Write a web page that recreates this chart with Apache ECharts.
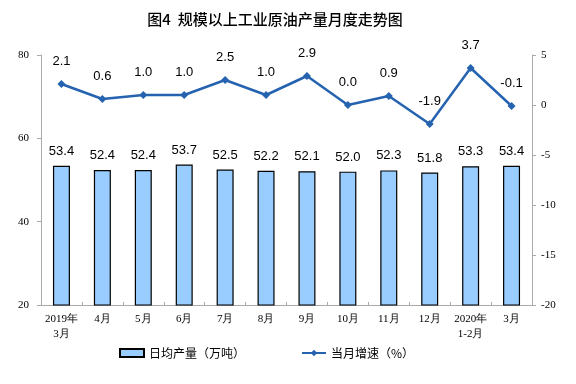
<!DOCTYPE html>
<html><head><meta charset="utf-8">
<script src="https://cdn.jsdelivr.net/npm/echarts@6/dist/echarts.min.js"></script>
<style>html,body{margin:0;padding:0;background:#fff}#c{width:576px;height:384px}</style>
</head><body><div id="c"></div>
<script>
var categories = ['2019年\n3月','4月','5月','6月','7月','8月','9月','10月','11月','12月','2020年\n1-2月','3月'];
var dailyOutput = [53.4,52.4,52.4,53.7,52.5,52.2,52.1,52.0,52.3,51.8,53.3,53.4];
var growthRate = [2.1,0.6,1.0,1.0,2.5,1.0,2.9,0.0,0.9,-1.9,3.7,-0.1];
var leftTicks = [20,40,60,80];
var rightTicks = [-20,-15,-10,-5,0,5];

var chart = echarts.init(document.getElementById('c'));
var serif = '"Liberation Serif","Times New Roman",serif';
var sans = '"Liberation Sans",Arial,sans-serif';
var cjk = '"Noto Sans CJK SC",sans-serif';
chart.setOption({
  animation:false,
  title:{text:'图4  规模以上工业原油产量月度走势图',left:270,textAlign:'center',top:7,
    textStyle:{fontFamily:cjk,fontSize:15,fontWeight:500,color:'#000'}},
  grid:{left:41,right:44,top:55,bottom:79},
  legend:{bottom:20,left:114,itemGap:56,itemWidth:24,itemHeight:8,
    textStyle:{fontFamily:cjk,fontSize:12,color:'#000'},
    data:[{name:'日均产量（万吨）',icon:'rect'},{name:'当月增速（%）'}]},
  xAxis:{type:'category',data:categories,
    axisLine:{onZero:false,lineStyle:{color:'#aaa'}},
    axisTick:{show:true,inside:true,length:3,lineStyle:{color:'#aaa'}},
    axisLabel:{fontFamily:serif,fontSize:11,color:'#000',margin:7,lineHeight:15,interval:0}},
  yAxis:[
    {type:'value',min:20,max:80,interval:20,
      axisLine:{show:true,lineStyle:{color:'#aaa'}},
      axisTick:{show:true,length:4,lineStyle:{color:'#aaa'}},
      splitLine:{show:false},
      axisLabel:{fontFamily:serif,fontSize:11,color:'#000',margin:12,
        formatter:function(v){return leftTicks.indexOf(v)>=0?v:'';}}},
    {type:'value',min:-20,max:5,interval:5,
      axisLine:{show:true,lineStyle:{color:'#aaa'}},
      axisTick:{show:true,length:4,lineStyle:{color:'#aaa'}},
      splitLine:{show:false},
      axisLabel:{fontFamily:serif,fontSize:11,color:'#000',margin:9,
        formatter:function(v){return rightTicks.indexOf(v)>=0?v:'';}}}
  ],
  series:[
    {name:'日均产量（万吨）',type:'bar',data:dailyOutput,barWidth:17,yAxisIndex:0,
      itemStyle:{color:'#99CCFF',borderColor:'#000',borderWidth:1.2},
      label:{show:true,position:'top',distance:8,fontFamily:sans,fontSize:13,color:'#000',
        formatter:function(p){return p.value.toFixed(1);}}},
    {name:'当月增速（%）',type:'line',data:growthRate,yAxisIndex:1,
      symbol:'diamond',symbolSize:8,
      lineStyle:{color:'#2563B0',width:2.5},itemStyle:{color:'#2563B0'},
      label:{show:true,position:'top',distance:12,fontFamily:sans,fontSize:13,color:'#000',
        formatter:function(p){return p.value.toFixed(1);}}}
  ]
});
</script></body></html>
